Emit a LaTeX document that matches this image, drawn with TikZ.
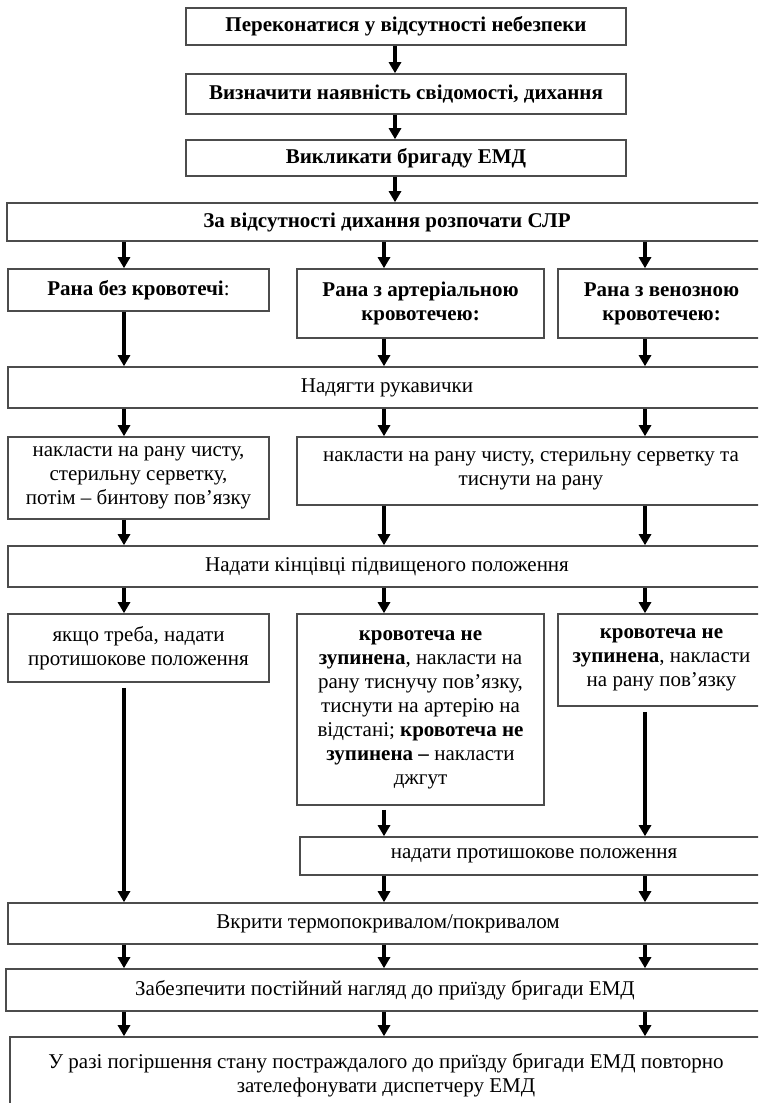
\documentclass[tikz,border=0pt]{standalone}
\usepackage{fontspec}
\setmainfont{Liberation Serif}
\usetikzlibrary{arrows.meta}

\begin{document}
\begin{tikzpicture}[x=1pt,y=-1pt,
        box/.style={draw=black!70, line width=1.6pt, rectangle, align=center, inner sep=0pt, font=\fontsize{21}{24}\selectfont},
        arr/.style={line width=3.6pt, -{Triangle[width=12pt,length=11pt]}}] %Допомога при рані
            \clip (0,0) rectangle (758,1103);

            \coordinate (c0) at (395,0);
            \coordinate (c1) at (124,0);
            \coordinate (c2) at (384,0);
            \coordinate (c3) at (645,0);

            \node[box, minimum width=440pt, minimum height=37pt] (safe) at (406,26.5) {\textbf{Переконатися у відсутності небезпеки}};
            \node[box, minimum width=440pt, minimum height=40pt] (breath) at (406,94) {\textbf{Визначити наявність свідомості, дихання}};
            \node[box, minimum width=440pt, minimum height=36pt] (call) at (406,158) {\textbf{Викликати бригаду ЕМД}};
            \node[box, minimum width=760pt, minimum height=38pt] (cpr) at (387,222) {\textbf{За відсутності дихання розпочати СЛР}};

            \node[box, minimum width=261pt, minimum height=42pt] (nobleed) at (138.5,290) {\textbf{Рана без кровотечі}:};
            \node[box, minimum width=247pt, minimum height=69pt] (artery) at (420.5,303.5) {\textbf{Рана з артеріальною}\\\textbf{кровотечею:}};
            \node[box, minimum width=207pt, minimum height=69pt] (vein) at (661.5,303.5) {\textbf{Рана з венозною}\\\textbf{кровотечею:}};

            \node[box, minimum width=758pt, minimum height=41pt] (gloves) at (387,387.5) {Надягти рукавички};

            \node[box, minimum width=261pt, minimum height=82pt] (napkin) at (138.5,478) {накласти на рану чисту,\\стерильну серветку,\\потім – бинтову пов’язку};
            \node[box, minimum width=468pt, minimum height=68pt] (press) at (531,471) {накласти на рану чисту, стерильну серветку та\\тиснути на рану};

            \node[box, minimum width=758pt, minimum height=41pt] (raise) at (387,566.5) {Надати кінцівці підвищеного положення};

            \node[box, minimum width=261pt, minimum height=68pt] (shockL) at (138.5,648) {якщо треба, надати\\протишокове положення};
            \node[box, minimum width=247pt, minimum height=191pt] (tourniq) at (420.5,709.5) {\textbf{кровотеча не}\\\textbf{зупинена}, накласти на\\рану тиснучу пов’язку,\\тиснути на артерію на\\відстані; \textbf{кровотеча не}\\\textbf{зупинена –} накласти\\джгут};
            \node[box, minimum width=207pt, minimum height=92pt] (dressing) at (661.5,660) {\textbf{кровотеча не}\\\textbf{зупинена}, накласти\\на рану пов’язку};

            \node[box, minimum width=468pt, minimum height=38pt] (shockR) at (534,856) {надати протишокове положення};

            \node[box, minimum width=760pt, minimum height=41pt] (cover) at (388,923.5) {Вкрити термопокривалом/покривалом};
            \node[box, minimum width=758pt, minimum height=42pt] (watch) at (385,990) {Забезпечити постійний нагляд до приїзду бригади ЕМД};
            \node[box, minimum width=752pt, minimum height=77pt] (recall) at (386,1075.5) {У разі погіршення стану постраждалого до приїзду бригади ЕМД повторно\\зателефонувати диспетчеру ЕМД};

            \draw[arr] (safe.south -| c0) -- (breath.north -| c0);
            \draw[arr] (breath.south -| c0) -- (call.north -| c0);
            \draw[arr] (call.south -| c0) -- (cpr.north -| c0);

            \draw[arr] (cpr.south -| c1) -- (nobleed.north -| c1);
            \draw[arr] (cpr.south -| c2) -- (artery.north -| c2);
            \draw[arr] (cpr.south -| c3) -- (vein.north -| c3);

            \draw[arr] (nobleed.south -| c1) -- (gloves.north -| c1);
            \draw[arr] (artery.south -| c2) -- (gloves.north -| c2);
            \draw[arr] (vein.south -| c3) -- (gloves.north -| c3);

            \draw[arr] (gloves.south -| c1) -- (napkin.north -| c1);
            \draw[arr] (gloves.south -| c2) -- (press.north -| c2);
            \draw[arr] (gloves.south -| c3) -- (press.north -| c3);

            \draw[arr] (napkin.south -| c1) -- (raise.north -| c1);
            \draw[arr] (press.south -| c2) -- (raise.north -| c2);
            \draw[arr] (press.south -| c3) -- (raise.north -| c3);

            \draw[arr] (raise.south -| c1) -- (shockL.north -| c1);
            \draw[arr] (raise.south -| c2) -- (tourniq.north -| c2);
            \draw[arr] (raise.south -| c3) -- (dressing.north -| c3);

            \draw[arr, shorten <=5pt] (shockL.south -| c1) -- (cover.north -| c1);
            \draw[arr, shorten <=4pt] (tourniq.south -| c2) -- (shockR.north -| c2);
            \draw[arr, shorten <=5pt] (dressing.south -| c3) -- (shockR.north -| c3);

            \draw[arr] (shockR.south -| c2) -- (cover.north -| c2);
            \draw[arr] (shockR.south -| c3) -- (cover.north -| c3);

            \draw[arr] (cover.south -| c1) -- (watch.north -| c1);
            \draw[arr] (cover.south -| c2) -- (watch.north -| c2);
            \draw[arr] (cover.south -| c3) -- (watch.north -| c3);

            \draw[arr] (watch.south -| c1) -- (recall.north -| c1);
            \draw[arr] (watch.south -| c2) -- (recall.north -| c2);
            \draw[arr] (watch.south -| c3) -- (recall.north -| c3);
        \end{tikzpicture}
\end{document}
